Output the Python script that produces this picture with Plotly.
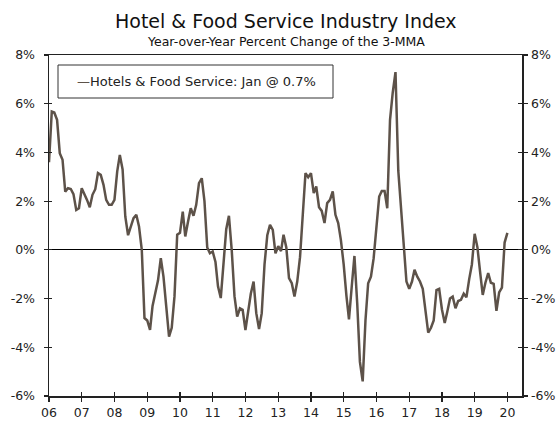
import pandas as pd
import plotly.graph_objects as go

# ---- data (monthly, Jan 2006 - Jan 2020) ----
start_month = "2006-01-01"
hotel_food_yoy = [
    3.60, 5.68, 5.64, 5.34, 3.97, 3.70, 2.39, 2.53, 2.50, 2.29, 1.64, 1.71,      # 2006
    2.53, 2.30, 2.05, 1.75, 2.26, 2.49, 3.15, 3.08, 2.67, 2.05, 1.85, 1.85,      # 2007
    2.05, 3.22, 3.90, 3.30, 1.37, 0.60, 1.00, 1.30, 1.44, 0.96, 0.00, -2.80,     # 2008
    -2.90, -3.29, -2.30, -1.75, -1.25, -0.34, -1.10, -2.33, -3.56, -3.20, -1.90, 0.62,  # 2009
    0.70, 1.57, 0.55, 1.16, 1.71, 1.40, 1.85, 2.74, 2.94, 2.00, 0.10, -0.14,     # 2010
    -0.07, -0.50, -1.50, -1.98, -0.60, 0.85, 1.40, 0.00, -1.90, -2.74, -2.40, -2.46,  # 2011
    -3.29, -2.60, -1.80, -1.30, -2.60, -3.25, -2.60, -0.60, 0.60, 1.03, 0.82, -0.14,  # 2012
    0.15, -0.05, 0.62, 0.10, -1.16, -1.37, -1.92, -1.30, -0.30, 1.40, 3.15, 2.98,     # 2013
    3.15, 2.33, 2.60, 1.75, 1.60, 1.10, 1.92, 2.05, 2.40, 1.44, 1.10, 0.40,      # 2014
    -0.60, -1.90, -2.85, -1.50, -0.25, -2.20, -4.60, -5.40, -2.90, -1.37, -1.10, -0.35,  # 2015
    0.90, 2.19, 2.42, 2.42, 1.71, 5.34, 6.45, 7.30, 3.25, 1.90, 0.20, -1.30,     # 2016
    -1.60, -1.30, -0.82, -1.10, -1.30, -1.60, -2.40, -3.40, -3.20, -2.90, -1.65, -1.60,  # 2017
    -2.45, -3.00, -2.55, -2.00, -1.92, -2.40, -2.10, -2.05, -1.80, -1.95, -1.20, -0.60,  # 2018
    0.66, 0.10, -0.85, -1.85, -1.35, -0.95, -1.35, -1.40, -2.50, -1.75, -1.55, 0.30,     # 2019
    0.70,                                                                         # 2020
]
series_name = "Hotels & Food Service: Jan @ 0.7%"
year_ticks = list(range(2006, 2021))
year_labels = [f"{y % 100:02d}" for y in year_ticks]
y_ticks = [-6, -4, -2, 0, 2, 4, 6, 8]
y_labels = [f"{v}%" for v in y_ticks]

dates = pd.date_range(start_month, periods=len(hotel_food_yoy), freq="MS")
tick_dates = [pd.Timestamp(f"{y}-01-01") for y in year_ticks]

LINE = "#5d5249"
FONT = "DejaVu Sans"
W, H = 559, 421
ML, MR, MT, MB = 49, 37, 55, 25
plot_w = W - ML - MR
plot_h = H - MT - MB

fig = go.Figure()
fig.add_trace(go.Scatter(
    x=dates, y=hotel_food_yoy, mode="lines", name=series_name,
    line=dict(color=LINE, width=2.5), showlegend=False,
))
# invisible helper traces that carry the overlay axes (right labels, crossing ticks)
fig.add_trace(go.Scatter(
    x=dates, y=hotel_food_yoy, mode="lines", xaxis="x2", yaxis="y2",
    line=dict(color="rgba(0,0,0,0)", width=0), showlegend=False, hoverinfo="skip",
))
fig.add_trace(go.Scatter(
    x=dates, y=hotel_food_yoy, mode="lines", xaxis="x", yaxis="y3",
    line=dict(color="rgba(0,0,0,0)", width=0), showlegend=False, hoverinfo="skip",
))

x_range = [pd.Timestamp("2006-01-01"), pd.Timestamp("2020-06-12")]
y_range = [-6, 8]


def px_x(px):
    return (px - ML) / plot_w


def px_y(py):
    return (H - MB - py) / plot_h


axis_col = "#222222"
tick_font = dict(size=12.5, color=axis_col)
fig.update_layout(
    width=W, height=H,
    margin=dict(l=ML, r=MR, t=MT, b=MB, autoexpand=False),
    paper_bgcolor="white", plot_bgcolor="white",
    font=dict(family=FONT, size=12, color=axis_col),
    hovermode=False,
    xaxis=dict(
        range=x_range, tickvals=tick_dates, ticktext=year_labels,
        showgrid=False, zeroline=False,
        showline=True, linecolor=axis_col, linewidth=1.5, mirror=True,
        ticks="outside", ticklen=4, tickcolor=axis_col, tickwidth=1.2,
        tickfont=tick_font,
    ),
    xaxis2=dict(
        range=x_range, tickvals=tick_dates, overlaying="x", anchor="y", side="bottom",
        showgrid=False, zeroline=False, showline=False, showticklabels=False,
        ticks="inside", ticklen=4, tickcolor=axis_col, tickwidth=1.2,
    ),
    yaxis=dict(
        range=y_range, tickvals=y_ticks, ticktext=y_labels,
        showgrid=False, zeroline=True, zerolinecolor="#000000", zerolinewidth=1,
        showline=True, linecolor=axis_col, linewidth=1.5, mirror="allticks",
        ticks="outside", ticklen=4, tickcolor=axis_col, tickwidth=1.2,
        ticklabelstandoff=6, tickfont=tick_font,
    ),
    yaxis2=dict(
        range=y_range, tickvals=y_ticks, ticktext=y_labels,
        overlaying="y", side="right", anchor="x2",
        showgrid=False, zeroline=False, showline=False,
        ticks="inside", ticklen=4, tickcolor=axis_col, tickwidth=1.2,
        ticklabelstandoff=8, tickfont=tick_font,
    ),
    yaxis3=dict(
        range=y_range, tickvals=y_ticks, overlaying="y", side="left", anchor="x",
        showgrid=False, zeroline=False, showline=False, showticklabels=False,
        ticks="inside", ticklen=3, tickcolor=axis_col, tickwidth=1.2,
    ),
    shapes=[
        dict(type="rect", xref="paper", yref="paper",
             x0=px_x(58), x1=px_x(333), y0=px_y(98), y1=px_y(65),
             line=dict(color="#333333", width=1), fillcolor="white", layer="above"),
    ],
    annotations=[
        dict(text="Hotel &amp; Food Service Industry Index", xref="paper", yref="paper",
             x=0.5, y=px_y(21), xanchor="center", yanchor="middle",
             showarrow=False, font=dict(size=19, color="#111111")),
        dict(text="Year-over-Year Percent Change of the 3-MMA", xref="paper", yref="paper",
             x=0.5, y=px_y(41), xanchor="center", yanchor="middle",
             showarrow=False, font=dict(size=12.5, color="#111111")),
        dict(text=f"<span style='color:{LINE}'>\u2014</span>{series_name}",
             xref="paper", yref="paper", x=px_x(75), y=px_y(81.5),
             xanchor="left", yanchor="middle", showarrow=False,
             font=dict(size=13, color=axis_col)),
    ],
)

fig.write_html(
    "out.html",
    config={"displayModeBar": False, "staticPlot": True},
    post_script="document.body.style.margin='0';document.body.style.overflow='hidden';",
)
